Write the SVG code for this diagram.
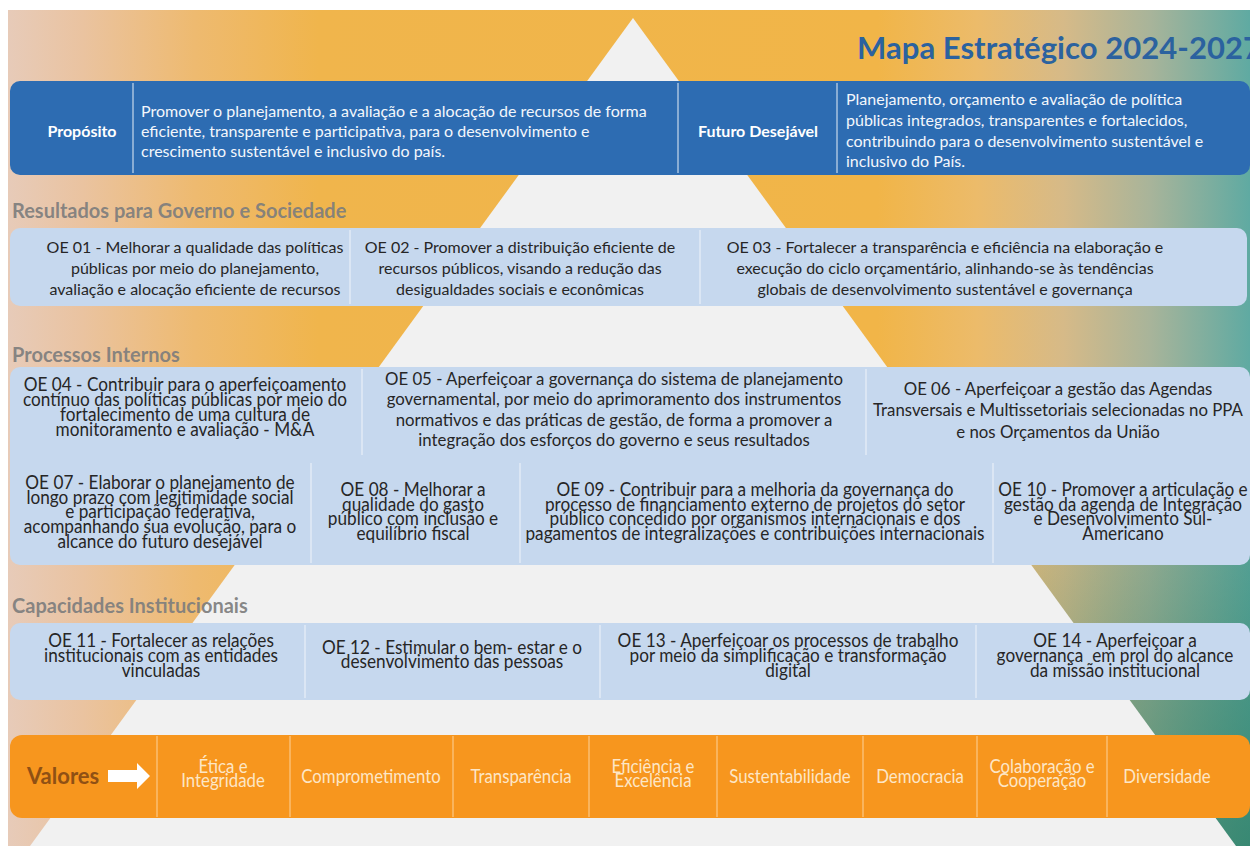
<svg xmlns="http://www.w3.org/2000/svg" width="1250" height="846" viewBox="0 0 1250 846">
  <defs>
    <linearGradient id="bg" gradientUnits="userSpaceOnUse" x1="8" y1="0" x2="1250" y2="0">
      <stop offset="0" stop-color="#e7cbb9"/>
      <stop offset="0.06" stop-color="#eac3a0"/>
      <stop offset="0.15" stop-color="#eeba70"/>
      <stop offset="0.25" stop-color="#f0b54c"/>
      <stop offset="0.70" stop-color="#f1b548"/>
      <stop offset="0.78" stop-color="#ecbb6a"/>
      <stop offset="0.85" stop-color="#d6ba88"/>
      <stop offset="0.92" stop-color="#a8b49a"/>
      <stop offset="1" stop-color="#5faaa2"/>
    </linearGradient>
    <radialGradient id="shade" gradientUnits="userSpaceOnUse" cx="1250" cy="846" r="420">
      <stop offset="0" stop-color="#2b7d63" stop-opacity="0.75"/>
      <stop offset="1" stop-color="#2b7d63" stop-opacity="0"/>
    </radialGradient>
    <style>
      text { font-family: Lato, "Liberation Sans", sans-serif; }
      .title { font-weight: 700; font-size: 31px; fill: #2b629f; }
      .hdr { font-weight: 700; font-size: 16px; fill: #ffffff; }
      .wt { font-size: 16px; fill: #f3f7fc; }
      .sec { font-weight: 700; font-size: 20px; fill: #7d7d7d; fill-opacity: 0.92; }
      .oe { font-size: 16px; fill: #262626; text-anchor: middle; }
      .oe2 { font-size: 16.8px; fill: #262626; text-anchor: middle; }
      .cd { font-size: 20px; fill: #262626; text-anchor: middle; }
      .val { font-size: 20px; fill: #fde6c6; text-anchor: middle; }
      .vl { font-weight: 700; font-size: 22px; fill: #8f5014; }
      .band { fill: #c6d8ee; }
      .dv { stroke: #e2ebf6; stroke-width: 1.5; }
      .dvb { stroke: #a9c3df; stroke-width: 1.5; }
      .dvo { stroke: #fbc987; stroke-width: 1.2; }
    </style>
  </defs>

  <!-- slide background with the light pyramid -->
  <g id="background">
    <rect x="8" y="10" width="1242" height="836" fill="url(#bg)"/>
    <rect x="8" y="10" width="1242" height="836" fill="url(#shade)"/>
    <polygon points="633,18 30,846 1236,846" fill="#f1f1f1"/>
  </g>

  <text id="title" class="title" x="857" y="59" textLength="404" lengthAdjust="spacing">Mapa Estratégico 2024-2027</text>

  <!-- purpose / desired future banner -->
  <g id="banner">
    <rect x="10" y="81" width="1240" height="94" rx="10" fill="#2d6cb2"/>
    <line class="dvb" x1="133" y1="83" x2="133" y2="173"/>
    <line class="dvb" x1="678" y1="83" x2="678" y2="173"/>
    <line class="dvb" x1="837" y1="83" x2="837" y2="173"/>
    <g id="proposito">
      <text class="hdr" x="82" y="137" text-anchor="middle">Propósito</text>
      <text class="wt" x="141" y="117">Promover o planejamento, a avaliação e a alocação de recursos de forma</text>
      <text class="wt" x="141" y="137">eficiente, transparente e participativa, para o desenvolvimento e</text>
      <text class="wt" x="141" y="157">crescimento sustentável e inclusivo do país.</text>
    </g>
    <g id="futuro">
      <text class="hdr" x="758" y="137" text-anchor="middle">Futuro Desejável</text>
      <text class="wt" x="846" y="105">Planejamento, orçamento e avaliação de política</text>
      <text class="wt" x="846" y="126">públicas integrados, transparentes e fortalecidos,</text>
      <text class="wt" x="846" y="146.5">contribuindo para o desenvolvimento sustentável e</text>
      <text class="wt" x="846" y="167">inclusivo do País.</text>
    </g>
  </g>

  <!-- Resultados para Governo e Sociedade -->
  <g id="resultados">
    <text class="sec" x="12" y="218">Resultados para Governo e Sociedade</text>
    <rect class="band" x="10" y="228" width="1237" height="78" rx="10"/>
    <line class="dv" x1="350" y1="230" x2="350" y2="304"/>
    <line class="dv" x1="700" y1="230" x2="700" y2="304"/>
    <g id="oe01">
      <text class="oe" x="195" y="253">OE 01 - Melhorar a qualidade das políticas</text>
      <text class="oe" x="195" y="274">públicas por meio do planejamento,</text>
      <text class="oe" x="195" y="295">avaliação e alocação eficiente de recursos</text>
    </g>
    <g id="oe02">
      <text class="oe" x="520" y="253">OE 02 - Promover a distribuição eficiente de</text>
      <text class="oe" x="520" y="274">recursos públicos, visando a redução das</text>
      <text class="oe" x="520" y="295">desigualdades sociais e econômicas</text>
    </g>
    <g id="oe03">
      <text class="oe" x="945" y="253">OE 03 - Fortalecer a transparência e eficiência na elaboração e</text>
      <text class="oe" x="945" y="274">execução do ciclo orçamentário, alinhando-se às tendências</text>
      <text class="oe" x="945" y="295">globais de desenvolvimento sustentável e governança</text>
    </g>
  </g>

  <!-- Processos Internos -->
  <g id="processos">
    <text class="sec" x="12" y="362">Processos Internos</text>
    <rect class="band" x="10" y="367" width="1240" height="198" rx="10"/>
    <line class="dv" x1="362" y1="369" x2="362" y2="455"/>
    <line class="dv" x1="866" y1="369" x2="866" y2="455"/>
    <line class="dv" x1="311" y1="463" x2="311" y2="563"/>
    <line class="dv" x1="520" y1="463" x2="520" y2="563"/>
    <line class="dv" x1="993" y1="463" x2="993" y2="563"/>
    <g id="oe04" transform="translate(185,0) scale(0.86,1)">
      <text class="cd" x="0" y="391">OE 04 - Contribuir para o aperfeiçoamento</text>
      <text class="cd" x="0" y="406">contínuo das políticas públicas por meio do</text>
      <text class="cd" x="0" y="421">fortalecimento de uma cultura de</text>
      <text class="cd" x="0" y="436">monitoramento e avaliação - M&amp;A</text>
    </g>
    <g id="oe05">
      <text class="oe2" x="614" y="385">OE 05 - Aperfeiçoar a governança do sistema de planejamento</text>
      <text class="oe2" x="614" y="405">governamental, por meio do aprimoramento dos instrumentos</text>
      <text class="oe2" x="614" y="426">normativos e das práticas de gestão, de forma a promover a</text>
      <text class="oe2" x="614" y="446">integração dos esforços do governo e seus resultados</text>
    </g>
    <g id="oe06">
      <text class="oe2" x="1058" y="395">OE 06 - Aperfeiçoar a gestão das Agendas</text>
      <text class="oe2" x="1058" y="416">Transversais e Multissetoriais selecionadas no PPA</text>
      <text class="oe2" x="1058" y="438">e nos Orçamentos da União</text>
    </g>
    <g id="oe07" transform="translate(160,0) scale(0.86,1)">
      <text class="cd" x="0" y="489">OE 07 - Elaborar o planejamento de</text>
      <text class="cd" x="0" y="503.7">longo prazo com legitimidade social</text>
      <text class="cd" x="0" y="518.4">e participação federativa,</text>
      <text class="cd" x="0" y="533.1">acompanhando sua evolução, para o</text>
      <text class="cd" x="0" y="547.8">alcance do futuro desejável</text>
    </g>
    <g id="oe08" transform="translate(413,0) scale(0.86,1)">
      <text class="cd" x="0" y="496">OE 08 - Melhorar a</text>
      <text class="cd" x="0" y="510.7">qualidade do gasto</text>
      <text class="cd" x="0" y="525.4">público com inclusão e</text>
      <text class="cd" x="0" y="540.1">equilíbrio fiscal</text>
    </g>
    <g id="oe09" transform="translate(755,0) scale(0.86,1)">
      <text class="cd" x="0" y="496">OE 09 - Contribuir para a melhoria da governança do</text>
      <text class="cd" x="0" y="510.7">processo de financiamento externo de projetos do setor</text>
      <text class="cd" x="0" y="525.4">público concedido por organismos internacionais e dos</text>
      <text class="cd" x="0" y="540.1">pagamentos de integralizações e contribuições internacionais</text>
    </g>
    <g id="oe10" transform="translate(1123,0) scale(0.86,1)">
      <text class="cd" x="0" y="496">OE 10 - Promover a articulação e</text>
      <text class="cd" x="0" y="510.7">gestão da agenda de Integração</text>
      <text class="cd" x="0" y="525.4">e Desenvolvimento Sul-</text>
      <text class="cd" x="0" y="540.1">Americano</text>
    </g>
  </g>

  <!-- Capacidades Institucionais -->
  <g id="capacidades">
    <text class="sec" x="12" y="613">Capacidades Institucionais</text>
    <rect class="band" x="10" y="623" width="1240" height="77" rx="10"/>
    <line class="dv" x1="305" y1="625" x2="305" y2="698"/>
    <line class="dv" x1="600" y1="625" x2="600" y2="698"/>
    <line class="dv" x1="976" y1="625" x2="976" y2="698"/>
    <g id="oe11" transform="translate(161,0) scale(0.86,1)">
      <text class="cd" x="0" y="647">OE 11 - Fortalecer as relações</text>
      <text class="cd" x="0" y="662">institucionais com as entidades</text>
      <text class="cd" x="0" y="677">vinculadas</text>
    </g>
    <g id="oe12" transform="translate(452,0) scale(0.86,1)">
      <text class="cd" x="0" y="654">OE 12 - Estimular o bem- estar e o</text>
      <text class="cd" x="0" y="668">desenvolvimento das pessoas</text>
    </g>
    <g id="oe13" transform="translate(788,0) scale(0.86,1)">
      <text class="cd" x="0" y="647">OE 13 - Aperfeiçoar os processos de trabalho</text>
      <text class="cd" x="0" y="662">por meio da simplificação e transformação</text>
      <text class="cd" x="0" y="677">digital</text>
    </g>
    <g id="oe14" transform="translate(1115,0) scale(0.86,1)">
      <text class="cd" x="0" y="647">OE 14 - Aperfeiçoar a</text>
      <text class="cd" x="0" y="662" xml:space="preserve">governança  em prol do alcance</text>
      <text class="cd" x="0" y="677">da missão institucional</text>
    </g>
  </g>

  <!-- Valores -->
  <g id="valores">
    <rect x="10" y="735" width="1240" height="83" rx="12" fill="#f7961e"/>
    <line class="dvo" x1="157" y1="736" x2="157" y2="817"/>
    <line class="dvo" x1="290" y1="736" x2="290" y2="817"/>
    <line class="dvo" x1="453" y1="736" x2="453" y2="817"/>
    <line class="dvo" x1="589" y1="736" x2="589" y2="817"/>
    <line class="dvo" x1="717" y1="736" x2="717" y2="817"/>
    <line class="dvo" x1="863" y1="736" x2="863" y2="817"/>
    <line class="dvo" x1="977" y1="736" x2="977" y2="817"/>
    <line class="dvo" x1="1107" y1="736" x2="1107" y2="817"/>
    <text class="vl" x="27" y="784">Valores</text>
    <polygon points="108,770 137,770 137,763 150,776 137,789 137,782 108,782" fill="#ffffff"/>
    <g id="v-etica" transform="translate(223,0) scale(0.84,1)">
      <text class="val" x="0" y="773">Ética e</text>
      <text class="val" x="0" y="787">Integridade</text>
    </g>
    <g id="v-comprometimento" transform="translate(371,0) scale(0.84,1)">
      <text class="val" x="0" y="783">Comprometimento</text>
    </g>
    <g id="v-transparencia" transform="translate(521,0) scale(0.84,1)">
      <text class="val" x="0" y="783">Transparência</text>
    </g>
    <g id="v-eficiencia" transform="translate(653,0) scale(0.84,1)">
      <text class="val" x="0" y="773">Eficiência e</text>
      <text class="val" x="0" y="787">Excelência</text>
    </g>
    <g id="v-sustentabilidade" transform="translate(790,0) scale(0.84,1)">
      <text class="val" x="0" y="783">Sustentabilidade</text>
    </g>
    <g id="v-democracia" transform="translate(920,0) scale(0.84,1)">
      <text class="val" x="0" y="783">Democracia</text>
    </g>
    <g id="v-colaboracao" transform="translate(1042,0) scale(0.84,1)">
      <text class="val" x="0" y="773">Colaboração e</text>
      <text class="val" x="0" y="787">Cooperação</text>
    </g>
    <g id="v-diversidade" transform="translate(1167,0) scale(0.84,1)">
      <text class="val" x="0" y="783">Diversidade</text>
    </g>
  </g>
</svg>
